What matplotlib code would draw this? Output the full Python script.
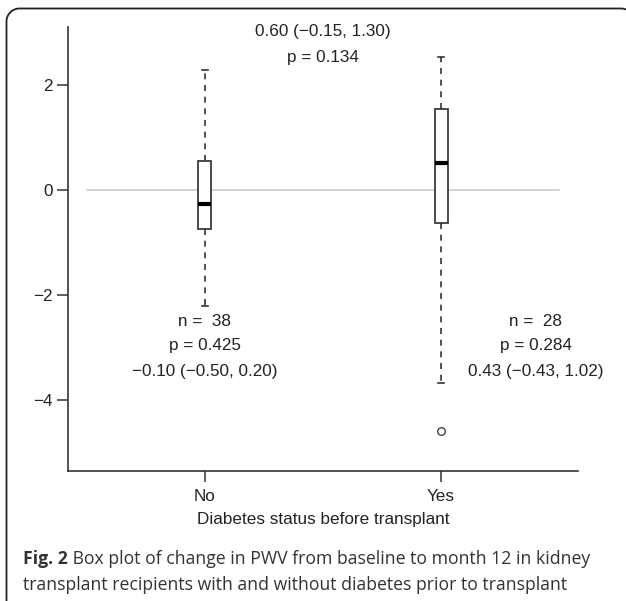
import matplotlib
matplotlib.use("Agg")
import numpy as np
import matplotlib.pyplot as plt
from matplotlib.lines import Line2D
from matplotlib.transforms import IdentityTransform

# ---- data ----
groups = ["No", "Yes"]
q1 = [-0.74, -0.63]
med = [-0.27, 0.52]
q3 = [0.55, 1.55]
whislo = [-2.21, -3.68]
whishi = [2.29, 2.54]
fliers = [[], [-4.60]]
n_labels = ["n =  38", "n =  28"]
p_labels = ["p = 0.425", "p = 0.284"]
ci_labels = ["\u22120.10 (\u22120.50, 0.20)", "0.43 (\u22120.43, 1.02)"]
diff_label = "0.60 (\u22120.15, 1.30)"
diff_p = "p = 0.134"
yticks = [-4, -2, 0, 2]
ytick_labels = ["\u22124", "\u22122", "0", "2"]
xlabel = "Diabetes status before transplant"
caption_bold = "Fig. 2"
caption_rest1 = " Box plot of change in PWV from baseline to month 12 in kidney"
caption_line2 = "transplant recipients with and without diabetes prior to transplant"

W, H = 626, 601
fig = plt.figure(figsize=(W / 100, H / 100), dpi=100)
fig.patch.set_facecolor("white")

# rounded outer frame in pixel coordinates (right and bottom run off the image)
r = 13.0
left, top = 6.5, H - 8.5
right = 634.0
a1 = np.linspace(np.pi, np.pi / 2, 20)
a2 = np.linspace(np.pi / 2, 0, 20)
fx = np.concatenate([[left], left + r + r * np.cos(a1),
                     right - r + r * np.cos(a2), [right]])
fy = np.concatenate([[-30], top - r + r * np.sin(a1),
                     top - r + r * np.sin(a2), [-30]])
frame = Line2D(fx, fy, transform=IdentityTransform(), color="#222222",
               linewidth=1.3, clip_on=False)
fig.lines.append(frame)

ax = fig.add_axes([68 / W, 1 - 471 / H, (578 - 68) / W, (471 - 27) / H])
ax.set_xlim(0.42, 2.58)
ax.set_ylim(-5.36, 3.11)

txtc = "#222222"
linec = "#333333"
tfont = ["Liberation Sans", "DejaVu Sans"]
fs = 12.3

# reference line at 0
ax.plot([0.5, 2.5], [0, 0], color="#c8c8c8", lw=1.1, zorder=1)

stats = []
for i, g in enumerate(groups):
    stats.append(dict(label=g, q1=q1[i], med=med[i], q3=q3[i],
                      whislo=whislo[i], whishi=whishi[i], fliers=fliers[i]))

ax.bxp(stats, positions=[1, 2], widths=0.055, capwidths=0.022,
       showfliers=True, patch_artist=True,
       boxprops=dict(facecolor="white", edgecolor=linec, linewidth=1.25),
       medianprops=dict(color="black", linewidth=3.0, solid_capstyle="butt"),
       whiskerprops=dict(color=linec, linewidth=1.2, linestyle=(0, (3.6, 3.4))),
       capprops=dict(color=linec, linewidth=1.2),
       flierprops=dict(marker="o", markersize=5.5, markerfacecolor="none",
                       markeredgecolor=linec, markeredgewidth=0.9),
       zorder=3)

# annotations
ax.text(1.5, 3.02, diff_label, ha="center", va="center", fontsize=fs,
        color=txtc, family=tfont)
ax.text(1.5, 2.52, diff_p, ha="center", va="center", fontsize=fs,
        color=txtc, family=tfont)
ann_x = [1.0, 2.40]
for i in range(2):
    ax.text(ann_x[i], -2.50, n_labels[i], ha="center", va="center",
            fontsize=fs, color=txtc, family=tfont)
    ax.text(ann_x[i], -2.97, p_labels[i], ha="center", va="center",
            fontsize=fs, color=txtc, family=tfont)
    ax.text(ann_x[i], -3.47, ci_labels[i], ha="center", va="center",
            fontsize=fs, color=txtc, family=tfont)

# axes styling
for s in ["top", "right"]:
    ax.spines[s].set_visible(False)
for s in ["left", "bottom"]:
    ax.spines[s].set_color(linec)
    ax.spines[s].set_linewidth(1.2)
ax.set_yticks(yticks)
ax.set_yticklabels(ytick_labels)
ax.set_xticks([1, 2])
ax.set_xticklabels(groups)
ax.tick_params(axis="both", direction="out", length=8, width=1.1,
               color=linec, labelsize=fs, labelcolor=txtc)
ax.tick_params(axis="y", pad=3)
ax.tick_params(axis="x", pad=5)
for lab in ax.get_xticklabels() + ax.get_yticklabels():
    lab.set_family(tfont)
ax.set_xlabel(xlabel, fontsize=fs, color=txtc, family=tfont, labelpad=6)

# caption
cfont = ["Open Sans", "DejaVu Sans"]
cfs = 12.7
t1 = fig.text(23 / W, 1 - 559 / H, caption_bold, fontsize=cfs, weight="bold",
              family=cfont, color="#333333", va="center", ha="left")
fig.canvas.draw()
bb = t1.get_window_extent()
fig.text(bb.x1 / W, 1 - 559 / H, caption_rest1, fontsize=cfs, family=cfont,
         color="#333333", va="center", ha="left")
fig.text(23 / W, 1 - 585 / H, caption_line2, fontsize=cfs, family=cfont,
         color="#333333", va="center", ha="left")

fig.savefig("out.png", dpi=100, facecolor="white")
